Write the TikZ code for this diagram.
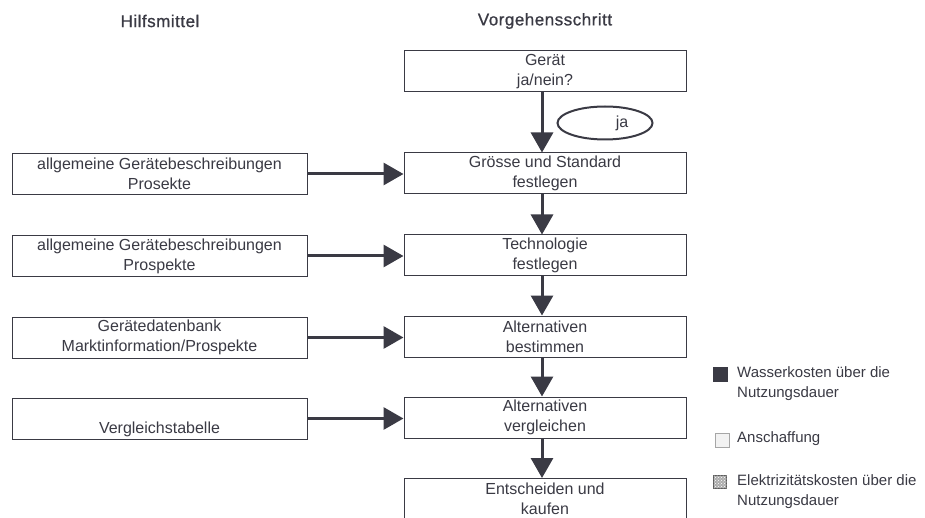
\documentclass[tikz,border=0pt]{standalone}
\usepackage{fontspec}
\setmainfont{Liberation Sans}
\usetikzlibrary{arrows.meta,shapes.geometric,patterns}
\definecolor{ink}{HTML}{3A3A44}
\tikzset{
  box/.style={draw=ink, line width=1pt, minimum width=282pt, minimum height=41pt,
    inner sep=0pt, align=center, text=ink, font=\fontsize{16}{20}\selectfont},
  lbox/.style={box, minimum width=295pt},
  flow/.style={draw=ink, line width=3pt, -{Triangle[length=20pt,width=22pt]}, shorten >=0pt},
  title/.style={text=ink, font=\fontsize{17}{20}\selectfont\addfontfeature{LetterSpace=3,FakeBold=0.8}},
  legtext/.style={text=ink, anchor=west, align=left, font=\fontsize{15}{20}\selectfont, inner sep=0pt},
}
\begin{document}
\begin{tikzpicture}[x=1pt,y=-1pt]
\useasboundingbox (0,0) rectangle (925,518);
\fill[white] (0,0) rectangle (925,518);

\node[title] (th) at (160,21) {Hilfsmittel};
\node[title] (tv) at (545,21) {Vorgehensschritt};

% right column
\node[box] (g) at (545,71.5) {Gerät\\ja/nein?};
\node[box] (s) at (545,173.5) {Grösse und Standard\\festlegen};
\node[box] (t) at (545,255.5) {Technologie\\festlegen};
\node[box] (ab) at (545,336.5) {Alternativen\\bestimmen};
\node[box] (av) at (545,417.5) {Alternativen\\vergleichen};
\node[box] (e) at (545,499) {Entscheiden und\\kaufen};

% left column
\node[lbox] (l1) at (159.5,174) {allgemeine Gerätebeschreibungen\\Prosekte};
\node[lbox] (l2) at (159.5,256) {allgemeine Gerätebeschreibungen\\Prospekte};
\node[lbox] (l3) at (159.5,337.5) {Gerätedatenbank\\Marktinformation/Prospekte};
\node[lbox] (l4) at (159.5,418.5) {\strut\\Vergleichstabelle};

% ja ellipse
\node[ellipse, draw=ink, line width=2pt, minimum width=95pt, minimum height=33pt,
  inner sep=0pt, text=ink, font=\fontsize{16}{20}\selectfont] (ja) at (605,123) {\hspace*{34pt}ja};

% vertical flow
\draw[flow] ([xshift=-3pt]g.south) -- ([xshift=-3pt]s.north);
\draw[flow] ([xshift=-3pt]s.south) -- ([xshift=-3pt]t.north);
\draw[flow] ([xshift=-3pt]t.south) -- ([xshift=-3pt]ab.north);
\draw[flow] ([xshift=-3pt]ab.south) -- ([xshift=-3pt]av.north);
\draw[flow] ([xshift=-3pt]av.south) -- ([xshift=-3pt]e.north);

% horizontal flow
\draw[flow] (l1.east) -- (l1.east -| s.west);
\draw[flow] (l2.east) -- (l2.east -| t.west);
\draw[flow] (l3.east) -- (l3.east -| ab.west);
\draw[flow] (l4.east) -- (l4.east -| av.west);

% legend
\node[fill=ink, draw=ink, minimum size=14pt, inner sep=0pt] (q1) at (720,374) {};
\node[legtext] (w1) at (737,384) {Wasserkosten über die\\Nutzungsdauer};
\node[fill=gray!10, draw=gray!70, line width=1pt, minimum size=14pt, inner sep=0pt] (q2) at (722,440) {};
\node[legtext] (w2) at (737,439) {Anschaffung};
\node[fill=gray!65, postaction={pattern=crosshatch dots, pattern color=white}, draw=gray!70!black, line width=0.6pt, minimum size=13pt, inner sep=0pt] (q3) at (720,481.5) {};
\node[legtext] (w3) at (737,492) {Elektrizitätskosten über die\\Nutzungsdauer};
\end{tikzpicture}
\end{document}
